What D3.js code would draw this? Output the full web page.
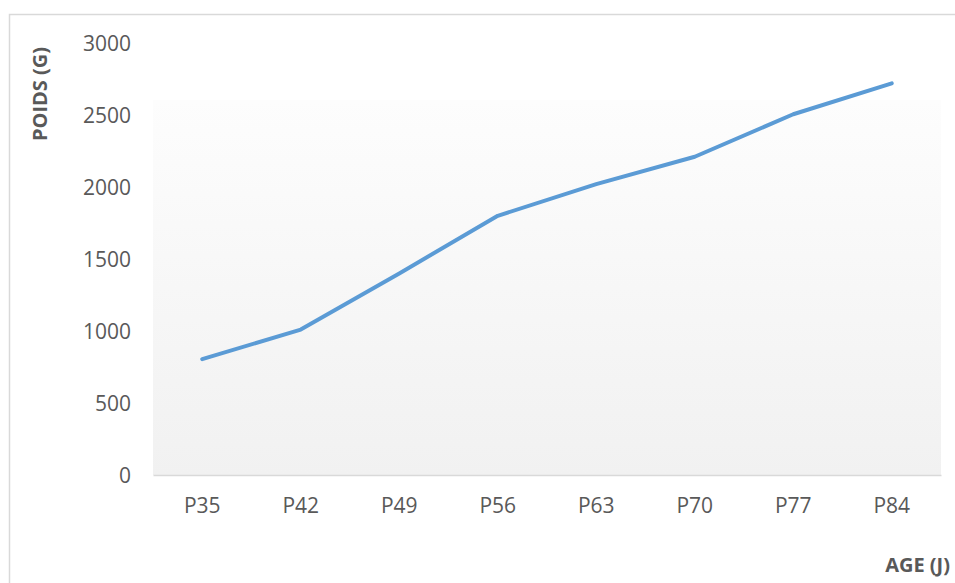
<!DOCTYPE html>
<html><head><meta charset="utf-8">
<script src="https://cdn.jsdelivr.net/npm/d3@7"></script>
<style>body{margin:0;background:#fff}svg{display:block}</style>
</head><body>
<svg id="chart" width="955" height="583"></svg>
<script>
const categories = ["P35","P42","P49","P56","P63","P70","P77","P84"];
const poids = [805, 1010, 1400, 1800, 2020, 2210, 2505, 2720];
const yTicks = [0, 500, 1000, 1500, 2000, 2500, 3000];

(function () {
const svg = d3.select("#chart");
const font = "'Open Sans', 'Noto Sans', sans-serif";
const pLeft = 153, pRight = 941, pTop = 43, pBottom = 475;

// outer border
svg.append("rect").attr("x", 9.5).attr("y", 14.5).attr("width", 960).attr("height", 600)
  .attr("fill", "none").attr("stroke", "#d9d9d9").attr("stroke-width", 1.5);

const defs = svg.append("defs");
const grad = defs.append("linearGradient").attr("id","bg").attr("x1",0).attr("y1",0).attr("x2",0).attr("y2",1);
grad.append("stop").attr("offset","0%").attr("stop-color","#fdfdfd");
grad.append("stop").attr("offset","100%").attr("stop-color","#f1f1f1");

const x = d3.scaleBand().domain(categories).range([pLeft, pRight]);
const y = d3.scaleLinear().domain([0, 3000]).range([pBottom, pTop]);

// plot background
svg.append("rect").attr("x", pLeft).attr("y", 100).attr("width", pRight - pLeft).attr("height", pBottom - 100)
  .attr("fill", "url(#bg)");

// y axis labels
const yAxis = d3.axisLeft(y).tickValues(yTicks).tickFormat(d3.format("d")).tickSize(0).tickPadding(0);
const gy = svg.append("g").attr("transform", `translate(131,0)`).call(yAxis);
gy.select(".domain").remove();
gy.selectAll("text").attr("font-family", font).attr("font-size", 21).attr("fill", "#595959").attr("dy","0.36em");

// x axis
const xAxis = d3.axisBottom(x).tickSize(0).tickPadding(0);
const gx = svg.append("g").attr("transform", `translate(0,${pBottom})`).call(xAxis);
gx.select(".domain").attr("stroke", "#d9d9d9").attr("stroke-width", 1.5);
gx.selectAll("text").attr("font-family", font).attr("font-size", 21).attr("fill", "#595959").attr("dy", "1.8em");

// line
const line = d3.line().x((d, i) => x(categories[i]) + x.bandwidth() / 2).y(d => y(d));
svg.append("path").datum(poids).attr("d", line).attr("fill", "none")
  .attr("stroke", "#5b9bd5").attr("stroke-width", 4).attr("stroke-linecap", "round").attr("stroke-linejoin", "round");

// axis titles
svg.append("text").attr("transform", "translate(47,94) rotate(-90)").attr("text-anchor", "middle")
  .attr("font-family", font).attr("font-weight", "bold").attr("font-size", 20).attr("fill", "#595959").text("POIDS (G)");
svg.append("text").attr("x", 950).attr("y", 572).attr("text-anchor", "end")
  .attr("font-family", font).attr("font-weight", "bold").attr("font-size", 20).attr("fill", "#595959").text("AGE (J)");
})();
</script>
</body></html>
